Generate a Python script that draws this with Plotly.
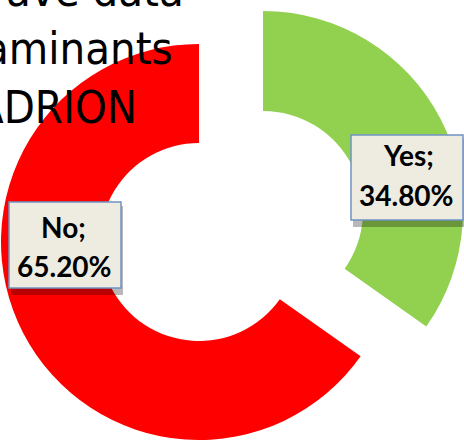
import plotly.graph_objects as go

labels = ["Yes", "No"]
values = [34.8, 65.2]
colors = ["#92D050", "#FF0000"]
title_lines = ["ave data", "aminants", "ADRION"]

W, H = 464, 440
CLEAR = "rgba(0,0,0,0)"


def px(x):
    return x / W


def py(y):
    return 1 - y / H


fig = go.Figure()

# main ring (No), centred lower-left
fig.add_trace(go.Pie(
    labels=labels, values=values, hole=0.5, sort=False, direction="clockwise",
    rotation=0, textinfo="none", hoverinfo="label+percent",
    marker=dict(colors=[CLEAR, colors[1]], line=dict(width=0)),
    domain=dict(x=[px(0), px(398)], y=[py(440), py(44)]),
    showlegend=False,
))
# exploded slice (Yes)
fig.add_trace(go.Pie(
    labels=labels, values=values, hole=0.5, sort=False, direction="clockwise",
    rotation=0, textinfo="none", hoverinfo="label+percent",
    marker=dict(colors=[colors[0], CLEAR], line=dict(width=0)),
    domain=dict(x=[px(63), px(463)], y=[py(411), py(11)]),
    showlegend=False,
))

# label boxes: (x0, y0, x1, y1) in pixels, and text centres
boxes = [(351, 135, 463, 220), (9, 202, 121, 288)]
shapes = []
annotations = []
for (x0, y0, x1, y1) in boxes:
    shapes.append(dict(type="rect", xref="paper", yref="paper",
                       x0=px(x0 + 2), x1=px(x1 + 2), y0=py(y1 + 7), y1=py(y0 + 4),
                       fillcolor="rgba(0,0,0,0.28)", line=dict(width=0)))
    shapes.append(dict(type="rect", xref="paper", yref="paper",
                       x0=px(x0), x1=px(x1), y0=py(y1), y1=py(y0),
                       fillcolor="#EEECE1", line=dict(color="#6F93C4", width=1.5)))

label_font = dict(family="Lato, Carlito, sans-serif", size=28, color="black")
text_pos = [((408, 155), (406, 195)), ((63, 227), (64, 266))]
for lab, val, ((xa, ya), (xb, yb)) in zip(labels, values, text_pos):
    annotations.append(dict(text=f"<b>{lab};</b>", x=px(xa), y=py(ya), xref="paper", yref="paper",
                            showarrow=False, xanchor="center", yanchor="middle", font=label_font))
    annotations.append(dict(text=f"<b>{val:.2f}%</b>", x=px(xb), y=py(yb), xref="paper", yref="paper",
                            showarrow=False, xanchor="center", yanchor="middle", font=label_font))

# title remnants at top-left (cropped in the original)
title_font = dict(family="DejaVu Sans Condensed, sans-serif", size=45, color="black")
title_pos = [(186, 7), (175, 65), (139, 123)]
for line, (xr, base) in zip(title_lines, title_pos):
    annotations.append(dict(text=line, x=px(xr), y=py(base - 16), xref="paper", yref="paper",
                            showarrow=False, xanchor="right", yanchor="middle", font=title_font))

fig.update_layout(
    width=W, height=H, margin=dict(l=0, r=0, t=0, b=0),
    paper_bgcolor="white", plot_bgcolor="white",
    shapes=shapes, annotations=annotations,
)

fig.write_html("out.html", config={"displayModeBar": False},
               post_script="document.body.style.margin='0';")
